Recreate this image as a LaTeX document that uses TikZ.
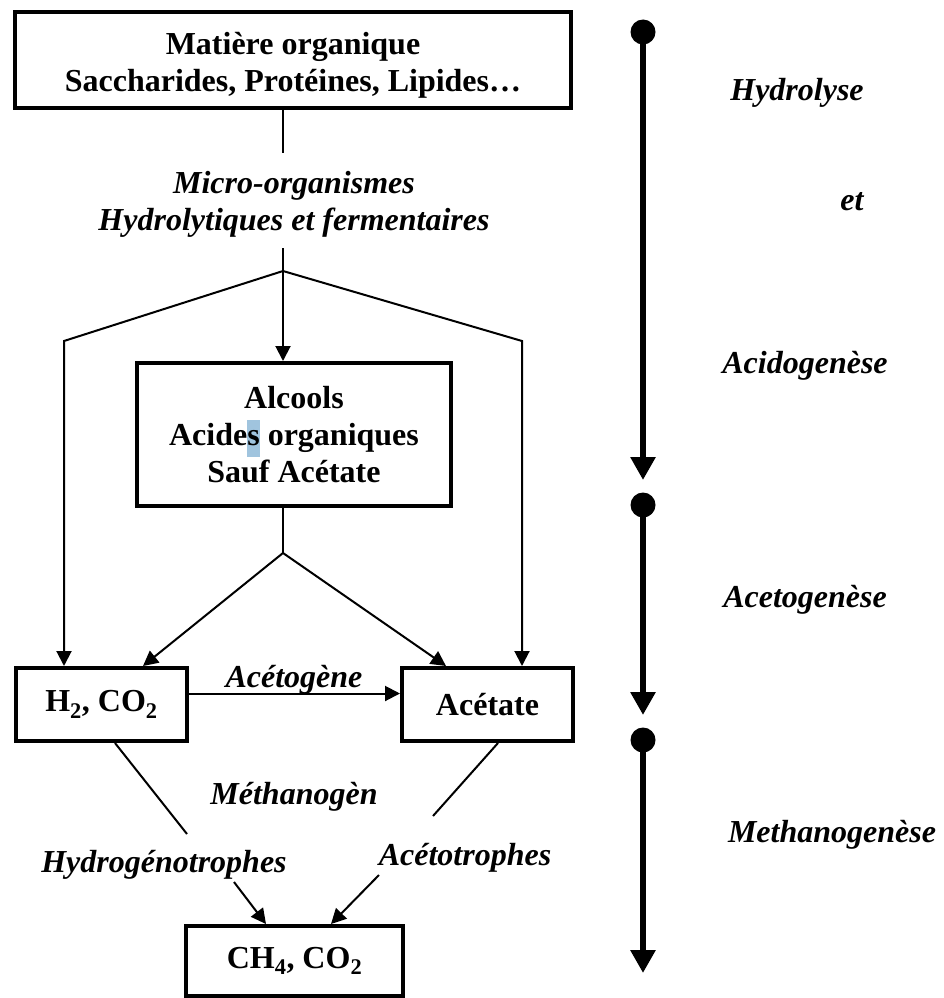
\documentclass[tikz,border=0pt]{standalone}
\usepackage{fontspec}
\setmainfont{Liberation Serif}
\usetikzlibrary{arrows.meta}
\definecolor{selblue}{RGB}{160,196,222}
\begin{document}
\begin{tikzpicture}[x=1pt,y=-1pt,
  fnt/.style={font=\fontsize{32}{37}\selectfont\bfseries},
  itl/.style={font=\fontsize{32}{37}\selectfont\bfseries\itshape},
  box/.style={draw, line width=4pt, inner sep=0pt, align=center, fnt},
  lbl/.style={itl, align=center, inner sep=0pt},
  conn/.style={line width=2pt},
  arr/.style={conn, -{Triangle[length=15pt,width=15pt]}},
  phase/.style={line width=6pt, -{Triangle[length=23pt,width=24pt]}}]
\useasboundingbox (0,0) rectangle (944,998);

% boxes
\node[box, minimum width=556pt, minimum height=95pt] (top) at (293,60) {};
\node[fnt, align=center, inner sep=0pt] (toptxt) at (293,65)
  {Matière organique\\Saccharides, Protéines, Lipides…};
\node[box, minimum width=314pt, minimum height=143pt] (alc) at (294,434.5)
  {Alcools\\Acide{\setlength\fboxsep{0pt}\colorbox{selblue}{\strut s}} organiques\\Sauf Acétate};
\node[box, minimum width=171pt, minimum height=73pt] (h2) at (101.5,704.5)
  {H\textsubscript{2}, CO\textsubscript{2}};
\node[box, minimum width=171pt, minimum height=73pt] (ace) at (487.5,704.5) {Acétate};
\node[box, minimum width=217pt, minimum height=70pt] (ch4) at (294.5,961)
  {CH\textsubscript{4}, CO\textsubscript{2}};

% labels
\node[lbl] (micro) at (294,204) {Micro-organismes\\Hydrolytiques et fermentaires};
\node[lbl] (acetog) at (294,680) {Acétogène};
\node[lbl] (methg) at (294,797) {Méthanogèn};
\node[lbl] (hydro) at (164,865) {Hydrogénotrophes};
\node[lbl] (acetot) at (465,858) {Acétotrophes};

% coordinates
\coordinate (tr1) at (283,153);
\coordinate (tr2) at (283,248);
\coordinate (sp1) at (283,271);
\coordinate (lc) at (64,341);
\coordinate (rc) at (522,341);
\coordinate (sp2) at (283,553);
\coordinate (m1) at (187,834);
\coordinate (m2) at (433,816);
\coordinate (a1) at (234,882);
\coordinate (a2) at (379,875);

% connectors
\draw[conn] (top.south -| tr1) -- (tr1);
\draw[conn] (tr2) -- (sp1);
\draw[arr] (sp1) -- (alc.north -| sp1);
\draw[arr] (sp1) -- (lc) -- (h2.north -| lc);
\draw[arr] (sp1) -- (rc) -- (ace.north -| rc);
\draw[conn] (alc.south -| sp2) -- (sp2);
\draw[arr] (sp2) -- ([xshift=41.5pt]h2.north);
\draw[arr] (sp2) -- ([xshift=-41.5pt]ace.north);
\draw[arr] ([yshift=11pt]h2.east) -- ([yshift=11pt]ace.west);
\draw[conn] ([xshift=13.5pt]h2.south) -- (m1);
\draw[conn] ([xshift=10.5pt]ace.south) -- (m2);
\draw[arr] (a1) -- ([xshift=-28.5pt]ch4.north);
\draw[arr] (a2) -- ([xshift=36.5pt]ch4.north);

% phases
\coordinate (p1s) at (643,32);  \coordinate (p1e) at (643,480);
\coordinate (p2s) at (643,505); \coordinate (p2e) at (643,715);
\coordinate (p3s) at (643,740); \coordinate (p3e) at (643,973);
\fill (p1s) circle (12.5pt);
\fill (p2s) circle (12.5pt);
\fill (p3s) circle (12.5pt);
\draw[phase] (p1s) -- (p1e);
\draw[phase] (p2s) -- (p2e);
\draw[phase] (p3s) -- (p3e);

\node[lbl] (hyd) at (797,93) {Hydrolyse};
\node[lbl] (et) at (852,202) {et};
\node[lbl] (acid) at (805,366) {Acidogenèse};
\node[lbl] (acetogen) at (805,600) {Acetogenèse};
\node[lbl] (methan) at (832,835) {Methanogenèse};
\end{tikzpicture}
\end{document}
